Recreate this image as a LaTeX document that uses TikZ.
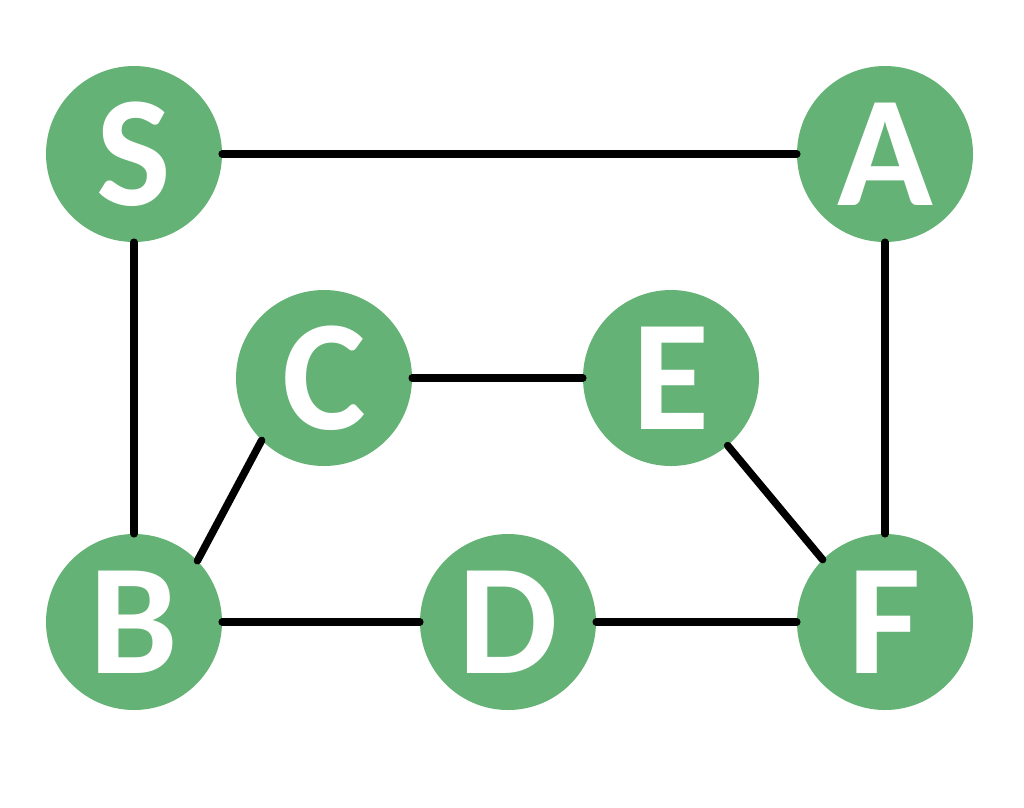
\documentclass[tikz,border=0pt]{standalone}
\usepackage{fontspec}
\setmainfont{Carlito}
\definecolor{nodegreen}{HTML}{64B275}
\begin{document}
\begin{tikzpicture}[x=1pt,y=-1pt,
  vert/.style={circle,fill=nodegreen,minimum size=176pt,inner sep=0pt,text=white,font=\fontsize{158}{158}\selectfont\bfseries},
  edge/.style={line width=7.5pt,line cap=round,black}]
\useasboundingbox (0,0) rectangle (1024,807);
\node[vert] (S) at (134,154) {S};
\node[vert] (A) at (885,154) {A};
\node[vert] (C) at (324,378) {C};
\node[vert] (E) at (671,378) {E};
\node[vert] (B) at (134,622) {B};
\node[vert] (D) at (508,622) {D};
\node[vert] (F) at (885,622) {F};
\draw[edge] (S) -- (A);
\draw[edge] (S) -- (B);
\draw[edge] (A) -- (F);
\draw[edge] (C) -- (E);
\draw[edge] (C.225) -- (B.44);
\draw[edge] (E.-50) -- (F.135);
\draw[edge] (B) -- (D);
\draw[edge] (D) -- (F);
\end{tikzpicture}
\end{document}
